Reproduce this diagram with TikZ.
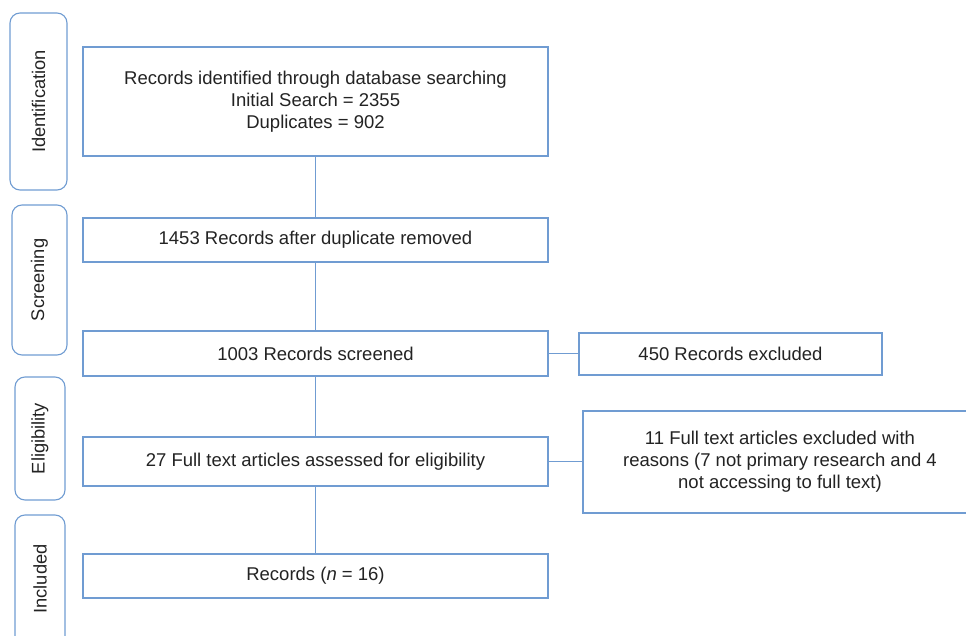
\documentclass[tikz,border=0pt]{standalone}
\usepackage{fontspec}
\setmainfont{Liberation Sans}
\definecolor{boxblue}{RGB}{112,156,210}
\definecolor{txt}{RGB}{35,35,35}
\begin{document}
\begin{tikzpicture}[x=1pt,y=-1pt,
  mainbox/.style={draw=boxblue,line width=1.3pt,fill=white,inner sep=0pt,align=center,text=txt,font=\fontsize{18.5}{22}\selectfont},
  stagebox/.style={draw=boxblue,line width=1.1pt,rounded corners=10pt,inner sep=0pt},
  stagetext/.style={rotate=90,text=txt,font=\fontsize{18.3}{22}\selectfont},
  link/.style={draw=boxblue,line width=1.3pt}]
\useasboundingbox (0,0) rectangle (966,636);
\clip (0,0) rectangle (966,636);
% stage labels
\node[stagebox,minimum width=57pt,minimum height=177pt] (sId) at (38.5,101.5) {};
\node[stagetext] (tId) at (sId.center) {Identification};
\node[stagebox,minimum width=55pt,minimum height=150pt] (sSc) at (39.5,280) {};
\node[stagetext] (tSc) at (sSc.center) {Screening};
\node[stagebox,minimum width=50pt,minimum height=123pt] (sEl) at (40,438.5) {};
\node[stagetext] (tEl) at (sEl.center) {Eligibility};
\node[stagebox,minimum width=50pt,minimum height=140pt] (sIn) at (40,585) {};
\node[stagetext] (tIn) at (40,579) {Included};
% main boxes
\node[mainbox,minimum width=465pt,minimum height=109pt] (b1) at (315.5,101.5)
  {Records identified through database searching\\Initial Search = 2355\\Duplicates = 902};
\node[mainbox,minimum width=465pt,minimum height=44pt] (b2) at (315.5,240) {1453 Records after duplicate removed};
\node[mainbox,minimum width=465pt,minimum height=45pt] (b3) at (315.5,353.5) {1003 Records screened};
\node[mainbox,minimum width=465pt,minimum height=49pt] (b4) at (315.5,461.5) {27 Full text articles assessed for eligibility};
\node[mainbox,minimum width=465pt,minimum height=44pt] (b5) at (315.5,576) {Records (\textit{n} = 16)};
\node[mainbox,minimum width=303pt,minimum height=42pt] (x1) at (730.5,354) {450 Records excluded};
\node[mainbox,minimum width=394pt,minimum height=102pt] (x2) at (780,462)
  {11 Full text articles excluded with\\reasons (7 not primary research and 4\\not accessing to full text)};
% connectors
\draw[link] (b1) -- (b2);
\draw[link] (b2) -- (b3);
\draw[link] (b3) -- (b4);
\draw[link] (b4) -- (b5);
\draw[link] (b3.east) -- (b3.east -| x1.west);
\draw[link] (b4.east) -- (b4.east -| x2.west);
\end{tikzpicture}
\end{document}
